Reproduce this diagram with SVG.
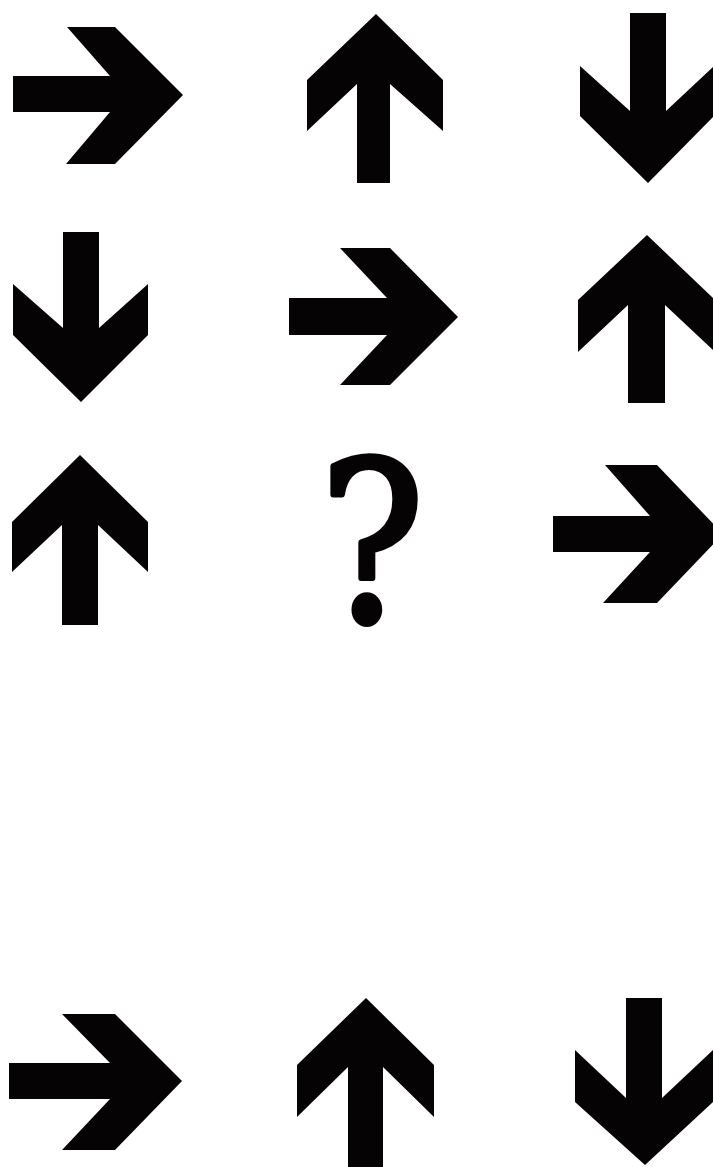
<svg xmlns="http://www.w3.org/2000/svg" width="713" height="1167" viewBox="0 0 713 1167">
<style>
.ar{fill:#060304}
.q{font-family:"DejaVu Serif",serif;font-weight:normal;fill:#060304;stroke:#060304;stroke-width:6;stroke-linejoin:round}
</style>
<rect width="713" height="1167" fill="#ffffff"/>
<g id="r1c1"><polygon class="ar" points="13,76 110,76 67,27 115,27 183,95 115,164 66,164 110,112 13,112"/></g>
<g id="r1c2"><polygon class="ar" points="376,14 443,80 443,131 390,84 390,183 357,183 357,84 307,131 307,80"/></g>
<g id="r1c3"><polygon class="ar" points="630,13 666,13 666,111 714,66 714,116 648,183 580,116 580,66 630,111"/></g>
<g id="r2c1"><polygon class="ar" points="63,232 99,232 99,328 148,284 148,335 81,402 13,335 13,284 63,328"/></g>
<g id="r2c2"><polygon class="ar" points="289,298 387,298 340,248 390,248 458,317 390,385 340,385 387,335 289,335"/></g>
<g id="r2c3"><polygon class="ar" points="647,235 715,300 715,352 665,305 665,403 628,403 628,305 578,352 578,300"/></g>
<g id="r3c1"><polygon class="ar" points="80,455 148,522 148,572 98,525 98,625 62,625 62,525 12,572 12,522"/></g>
<g id="r3c2"><text class="q" transform="translate(372,621) scale(0.88,1)" x="0" y="0" font-size="222" text-anchor="middle">?</text></g>
<g id="r3c3"><polygon class="ar" points="553,516 650,516 605,465 657,465 723,534 657,603 603,603 650,552 553,552"/></g>
<g id="r4c1"><polygon class="ar" points="9,1063 110,1063 62,1014 115,1014 182,1081 115,1150 62,1150 110,1099 9,1099"/></g>
<g id="r4c2"><polygon class="ar" points="366,998 434,1065 434,1117 383,1067 383,1170 348,1170 348,1067 297,1117 297,1065"/></g>
<g id="r4c3"><polygon class="ar" points="626,998 662,998 662,1098 713,1050 713,1102 645,1165 575,1102 575,1050 626,1098"/></g>
<g id="connectors"></g>
</svg>
